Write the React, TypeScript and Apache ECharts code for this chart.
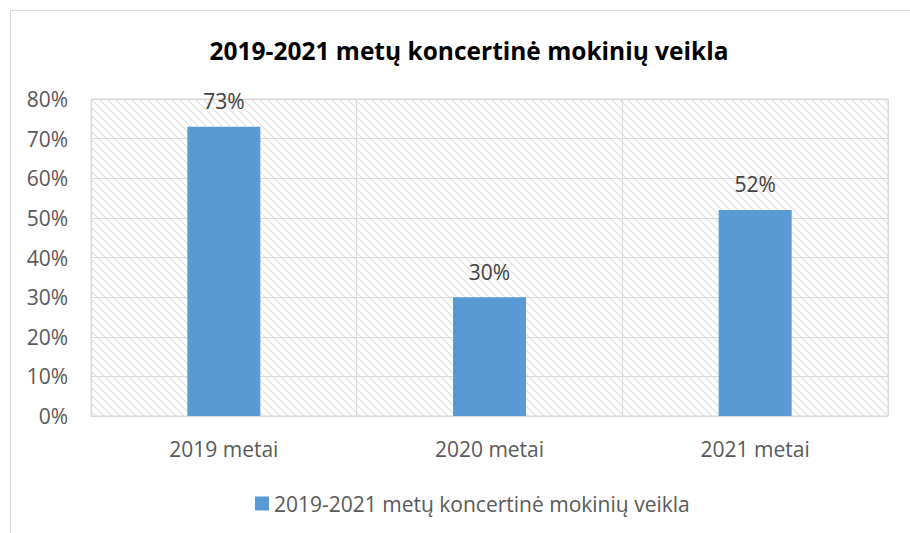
import React, { useEffect, useRef } from "react";
import * as echarts from "echarts";

const title = "2019-2021 metų koncertinė mokinių veikla";
const categories = ["2019 metai", "2020 metai", "2021 metai"];
const values = [73, 30, 52];
const yTicks = [0, 10, 20, 30, 40, 50, 60, 70, 80];

function makeHatch(): HTMLCanvasElement {
  const c = document.createElement("canvas");
  c.width = 8;
  c.height = 8;
  const ctx = c.getContext("2d")!;
  ctx.fillStyle = "#ffffff";
  ctx.fillRect(0, 0, 8, 8);
  ctx.strokeStyle = "#e0e0e0";
  ctx.lineWidth = 1.2;
  ctx.beginPath();
  ctx.moveTo(-2, -2);
  ctx.lineTo(10, 10);
  ctx.moveTo(-10, -2);
  ctx.lineTo(2, 10);
  ctx.moveTo(6, -2);
  ctx.lineTo(18, 10);
  ctx.stroke();
  return c;
}

export default function App() {
  const ref = useRef<HTMLDivElement>(null);
  useEffect(() => {
    const chart = echarts.init(ref.current!, null, { renderer: "svg" });
    const font = "Open Sans";
    chart.setOption({
      animation: false,
      backgroundColor: "#ffffff",
      title: {
        text: title,
        left: 464,
        textAlign: "center",
        top: 33,
        textStyle: { fontFamily: font, fontWeight: "bold", fontSize: 24.5, color: "#000000" },
      },
      graphic: [
        {
          type: "rect",
          shape: { x: 10.5, y: 10.5, width: 1000, height: 700 },
          style: { fill: "none", stroke: "#d9d9d9", lineWidth: 1 },
          silent: true,
        },
      ],
      legend: {
        top: 488,
        left: 250,
        itemWidth: 14,
        itemHeight: 14,
        icon: "rect",
        textStyle: { fontFamily: font, fontSize: 21, color: "#595959" },
        itemGap: 5,
      },
      grid: {
        left: 91,
        right: 22,
        top: 99,
        bottom: 117,
        show: true,
        borderColor: "#d9d9d9",
        borderWidth: 1,
        backgroundColor: { image: makeHatch(), repeat: "repeat" },
      },
      xAxis: {
        type: "category",
        data: categories,
        axisLine: { show: true, lineStyle: { color: "#d9d9d9" } },
        axisTick: { show: false },
        splitLine: { show: true, lineStyle: { color: "#d9d9d9" } },
        axisLabel: { fontFamily: font, fontSize: 21, color: "#595959", margin: 22 },
      },
      yAxis: {
        type: "value",
        min: yTicks[0],
        max: yTicks[yTicks.length - 1],
        interval: 10,
        axisLine: { show: false },
        axisTick: { show: false },
        splitLine: { show: true, lineStyle: { color: "#d9d9d9" } },
        axisLabel: {
          fontFamily: font,
          fontSize: 21,
          color: "#595959",
          margin: 23,
          formatter: (v: number) => v + "%",
        },
      },
      series: [
        {
          name: title,
          type: "bar",
          data: values,
          barWidth: 73,
          itemStyle: { color: "#5b9bd5" },
          label: {
            show: true,
            position: "top",
            distance: 15,
            fontFamily: font,
            fontSize: 21,
            color: "#404040",
            formatter: (p: any) => p.value + "%",
          },
        },
      ],
    });
    return () => chart.dispose();
  }, []);
  return (
    <div
      ref={ref}
      style={{ position: "fixed", left: 0, top: 0, width: 910, height: 533 }}
    />
  );
}
